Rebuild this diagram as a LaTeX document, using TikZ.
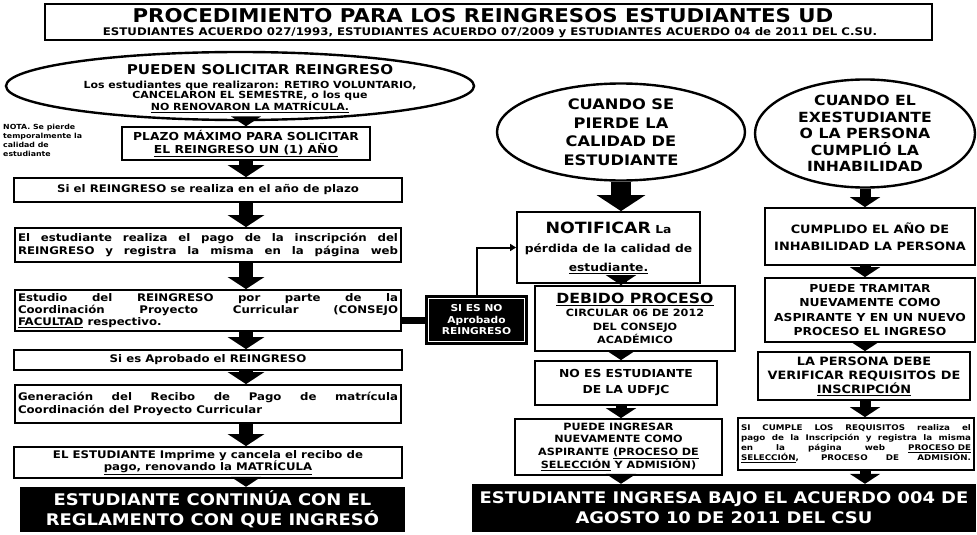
\documentclass[tikz,border=0pt]{standalone}
\usepackage{fontspec}
\setmainfont{DejaVu Sans}[FakeStretch=1.12]
\usepackage{graphicx}
\usetikzlibrary{shapes.geometric,arrows.meta}
\begin{document}
\begin{tikzpicture}[x=1pt,y=-1pt,
  box/.style={draw, line width=1.8pt, fill=white, align=center, inner sep=3pt, font=\bfseries\fontsize{10.5}{12.5}\selectfont},
  jbox/.style={box, align=justify},
  bbox/.style={fill=black, text=white, align=center, inner sep=2pt, font=\bfseries\fontsize{16}{20}\selectfont},
  ell/.style={ellipse, draw, line width=2.4pt, align=center, inner sep=0pt},
  arrL/.style={line width=14pt, -{Triangle[width=36pt,length=12pt]}},
  arrM/.style={line width=11pt, -{Triangle[width=30pt,length=10pt]}},
  arrB/.style={line width=20pt, -{Triangle[width=48pt,length=16pt]}},
  thin/.style={line width=2pt, -{Triangle[width=7pt,length=6pt]}}
]
\useasboundingbox (0,0) rectangle (977,535);
\fill[white] (0,0) rectangle (977,535);

% title
\node[draw, line width=1.8pt, minimum width=887pt, minimum height=36pt, inner sep=0pt] (title) at (488.5,22) {};
\node[font=\bfseries\fontsize{19}{20}\selectfont, inner sep=0pt] (t1) at (483,16) {PROCEDIMIENTO PARA LOS REINGRESOS ESTUDIANTES UD};
\node[font=\bfseries\fontsize{10.5}{11}\selectfont, inner sep=0pt] (t2) at (490,32.5) {ESTUDIANTES ACUERDO 027/1993, ESTUDIANTES ACUERDO 07/2009 y ESTUDIANTES ACUERDO 04 de 2011 DEL C.SU.};

% left column
\node[ell, minimum width=468pt, minimum height=68pt] (e1) at (240,86) {};
\node[font=\bfseries\fontsize{13.5}{14}\selectfont, inner sep=0pt] (e1t) at (260,70) {PUEDEN SOLICITAR REINGRESO};
\node[font=\bfseries\fontsize{9.8}{10.5}\selectfont, align=center, inner sep=0pt] (e1s) at (250,97) {Los estudiantes que realizaron: RETIRO VOLUNTARIO,\\CANCELARON EL SEMESTRE, o los que\\\underline{NO RENOVARON LA MATRÍCULA.}};
\node[font=\bfseries\fontsize{7}{9}\selectfont, align=left, inner sep=0pt, anchor=north west] (nota) at (3,124) {NOTA. Se pierde\\temporalmente la\\calidad de\\estudiante};

\node[box, minimum width=248pt, minimum height=31pt, font=\bfseries\fontsize{11}{13}\selectfont] (plazo) at (246,143.5) {PLAZO MÁXIMO PARA SOLICITAR\\\underline{EL REINGRESO UN (1) AÑO}};
\node[box, minimum width=388pt, minimum height=24pt] (b2) at (208,190) {Si el REINGRESO se realiza en el año de plazo};
\node[jbox, text width=380pt, minimum height=34pt] (b3) at (208,245) {\parfillskip=0pt El estudiante realiza el pago de la inscripción del\linebreak REINGRESO y registra la misma en la página web\par};
\node[jbox, text width=380pt, minimum height=41pt, font=\bfseries\fontsize{10.5}{12}\selectfont] (b4) at (208,310.5) {Estudio del REINGRESO por parte de la\linebreak Coordinación Proyecto Curricular (CONSEJO\linebreak \underline{FACULTAD} respectivo.};
\node[box, minimum width=388pt, minimum height=20pt] (b5) at (208,360) {Si es Aprobado el REINGRESO};
\node[jbox, text width=380pt, minimum height=38pt] (b6) at (208,404) {Generación del Recibo de Pago de matrícula\linebreak Coordinación del Proyecto Curricular};
\node[box, minimum width=388pt, minimum height=31pt] (b7) at (208,462.5) {EL ESTUDIANTE Imprime y cancela el recibo de\\\underline{pago, renovando la MATRÍCULA}};
\node[bbox, minimum width=385pt, minimum height=45pt] (k1) at (212.5,509.5) {ESTUDIANTE CONTINÚA CON EL\\REGLAMENTO CON QUE INGRESÓ};

\draw[arrM] (e1.south -| plazo.north) -- (plazo.north);
\draw[arrL] (plazo.south) -- (b2.north -| plazo.south);
\draw[arrL] (b2.south -| plazo.south) -- (b3.north -| plazo.south);
\draw[arrL] (b3.south -| plazo.south) -- (b4.north -| plazo.south);
\draw[arrL] (b4.south -| plazo.south) -- (b5.north -| plazo.south);
\draw[arrL] (b5.south -| plazo.south) -- (b6.north -| plazo.south);
\draw[arrL] (b6.south -| plazo.south) -- (b7.north -| plazo.south);
\draw[arrM] (b7.south -| plazo.south) -- (k1.north -| plazo.south);

% side box
\node[fill=black, text=white, minimum width=103pt, minimum height=50pt, align=center, inner sep=1pt, font=\bfseries\fontsize{9.5}{11.5}\selectfont] (side) at (476.5,320) {SI ES NO\\Aprobado\\REINGRESO};
\draw[white, line width=1pt] ([shift={(4,4)}]side.north west) rectangle ([shift={(-4,-4)}]side.south east);
\draw[line width=7pt] (side.west -| b4.east) -- (side.west);

% middle column
\node[ell, minimum width=248pt, minimum height=97pt, font=\bfseries\fontsize{14.5}{18.5}\selectfont] (me) at (621,132) {CUANDO SE\\PIERDE LA\\CALIDAD DE\\ESTUDIANTE};
\node[box, minimum width=183pt, minimum height=71pt, font=\bfseries\fontsize{11}{19}\selectfont] (notif) at (608.5,247.5) {{\fontsize{15.5}{16}\selectfont NOTIFICAR} La\\pérdida de la calidad de\\\underline{estudiante.}};
\node[box, minimum width=200pt, minimum height=65pt, font=\bfseries\fontsize{10}{13.5}\selectfont] (deb) at (635,318.5) {{\fontsize{14}{15}\selectfont\underline{DEBIDO PROCESO}}\\CIRCULAR 06 DE 2012\\DEL CONSEJO\\ACADÉMICO};
\node[box, minimum width=182pt, minimum height=44pt, font=\bfseries\fontsize{11}{16}\selectfont] (noes) at (626,383) {NO ES ESTUDIANTE\\DE LA UDFJC};
\node[box, minimum width=207pt, minimum height=56pt, font=\bfseries\fontsize{10}{12.5}\selectfont] (pue) at (618.5,447) {PUEDE INGRESAR\\NUEVAMENTE COMO\\ASPIRANTE \underline{(PROCESO DE}\\\underline{SELECCIÓN} Y ADMISIÓN)};
\node[bbox, minimum width=504pt, minimum height=48pt] (k2) at (724,508) {ESTUDIANTE INGRESA BAJO EL ACUERDO 004 DE\\AGOSTO 10 DE 2011 DEL CSU};

\draw[arrB] (me.south) -- (notif.north -| me.south);
\draw[arrM] (notif.south -| me.south) -- (deb.north -| me.south);
\draw[arrM] (deb.south -| me.south) -- (noes.north -| me.south);
\draw[arrM] (noes.south -| me.south) -- (pue.north -| me.south);
\draw[arrM] (pue.south -| me.south) -- (k2.north -| me.south);
\draw[thin] (side.north) -- (side.north |- notif.west) -- (notif.west);

% right column
\node[ell, minimum width=220pt, minimum height=97pt, font=\bfseries\fontsize{14}{16.5}\selectfont] (re) at (865,133.5) {CUANDO EL\\EXESTUDIANTE\\O LA PERSONA\\CUMPLIÓ LA\\INHABILIDAD};
\node[box, minimum width=210pt, minimum height=57pt, font=\bfseries\fontsize{11.5}{17}\selectfont] (cum) at (870,236.5) {CUMPLIDO EL AÑO DE\\INHABILIDAD LA PERSONA};
\node[box, minimum width=210pt, minimum height=64pt, font=\bfseries\fontsize{11}{14.5}\selectfont] (tra) at (870,310) {PUEDE TRAMITAR\\NUEVAMENTE COMO\\ASPIRANTE Y EN UN NUEVO\\PROCESO EL INGRESO};
\node[box, minimum width=212pt, minimum height=48pt, font=\bfseries\fontsize{11.5}{14}\selectfont] (per) at (864,376) {LA PERSONA DEBE\\VERIFICAR REQUISITOS DE\\\underline{INSCRIPCIÓN}};
\node[jbox, text width=230pt, minimum height=52pt, font=\bfseries\fontsize{7.8}{10}\selectfont] (sic) at (856,444) {\parfillskip=0pt SI CUMPLE LOS REQUISITOS realiza el\linebreak pago de la Inscripción y registra la misma\linebreak en la página web \underline{PROCESO DE}\linebreak \underline{SELECCIÓN}, PROCESO DE ADMISIÓN.\par};

\draw[arrM] (re.south) -- (cum.north -| re.south);
\draw[arrM] (cum.south -| re.south) -- (tra.north -| re.south);
\draw[arrM] (tra.south -| re.south) -- (per.north -| re.south);
\draw[arrM] (per.south -| re.south) -- (sic.north -| re.south);
\draw[arrM] (sic.south -| re.south) -- (k2.north -| re.south);
\end{tikzpicture}
\end{document}
